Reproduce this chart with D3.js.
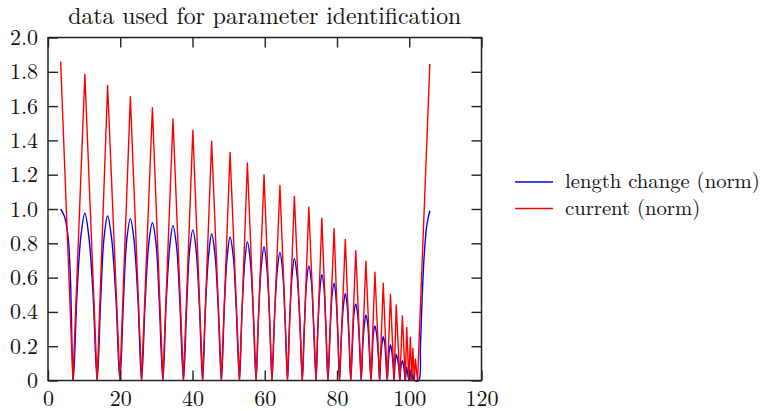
<!DOCTYPE html>
<html><head><meta charset="utf-8">
<script src="https://cdn.jsdelivr.net/npm/d3@7"></script>
<style>
html,body{margin:0;padding:0;background:#fff;}
</style></head>
<body><svg id="c" width="765" height="411"></svg>
<script>
// ---- data ----
const title = "data used for parameter identification";
const seriesNames = ["length change (norm)", "current (norm)"];
const xTicks = [0, 20, 40, 60, 80, 100, 120];
const yTicks = [0, 0.2, 0.4, 0.6, 0.8, 1.0, 1.2, 1.4, 1.6, 1.8, 2.0];
const yTickLabels = ["0", "0.2", "0.4", "0.6", "0.8", "1.0", "1.2", "1.4", "1.6", "1.8", "2.0"];

// current (norm): x and y
const currentX = [3.5, 6.9, 10.2, 13.6, 16.5, 19.9, 22.8, 25.9, 28.9, 31.8, 34.6, 37.5, 40.1, 42.8, 45.3, 48.0,
  50.4, 53.0, 55.2, 57.6, 59.8, 62.0, 64.2, 66.3, 68.2, 70.4, 72.2, 74.2, 75.8, 77.5, 79.2, 80.7, 82.3, 83.8,
  85.2, 86.7, 88.0, 89.4, 90.5, 91.8, 92.8, 93.9, 94.8, 95.8, 96.4, 97.4, 98.1, 98.9, 99.3, 99.9, 100.3, 100.7,
  101.0, 101.4, 101.7, 102.3, 105.7];
const currentY = [1.86, 0, 1.785, 0, 1.72, 0, 1.655, 0, 1.59, 0, 1.525, 0, 1.46, 0, 1.395, 0,
  1.33, 0, 1.268, 0, 1.20, 0, 1.138, 0, 1.074, 0, 1.01, 0, 0.946, 0, 0.885, 0, 0.823, 0,
  0.757, 0, 0.695, 0, 0.631, 0, 0.567, 0, 0.503, 0, 0.44, 0, 0.376, 0, 0.31, 0, 0.252, 0,
  0.188, 0, 0.124, 0, 1.845];

// length change (norm): x and y
const lengthX = [3.5, 4.5, 5.5, 6.2, 7.0,
  8.0, 9.1, 10.2, 11.3, 12.5, 13.6,
  14.6, 15.5, 16.5, 17.6, 18.8, 19.9,
  20.9, 21.8, 22.8, 23.8, 24.9, 25.9,
  26.9, 27.9, 28.9, 29.9, 30.8, 31.8,
  32.7, 33.7, 34.6, 35.6, 36.5, 37.5,
  38.4, 39.2, 40.1, 41.0, 41.9, 42.8,
  43.6, 44.5, 45.3, 46.2, 47.1, 48.0,
  48.8, 49.6, 50.4, 51.3, 52.1, 53.0,
  53.7, 54.5, 55.2, 56.0, 56.8, 57.6,
  58.3, 59.1, 59.8, 60.5, 61.3, 62.0,
  62.7, 63.5, 64.2, 64.9, 65.6, 66.3,
  66.9, 67.6, 68.2, 68.9, 69.7, 70.4,
  71.0, 71.6, 72.2, 72.9, 73.5, 74.2,
  74.7, 75.3, 75.8, 76.4, 76.9, 77.5,
  78.1, 78.6, 79.2, 79.7, 80.2, 80.7,
  81.2, 81.8, 82.3, 82.8, 83.3, 83.8,
  84.3, 84.7, 85.2, 85.7, 86.2, 86.7,
  87.1, 87.6, 88.0, 88.5, 88.9, 89.4,
  89.8, 90.1, 90.5, 90.9, 91.4, 91.8,
  92.1, 92.5, 92.8, 93.2, 93.5, 93.9,
  94.2, 94.5, 94.8, 95.1, 95.5, 95.8,
  96.0, 96.2, 96.4, 96.7, 97.1, 97.4,
  97.7, 98.1, 98.5, 98.9,
  99.3, 99.9, 100.3, 100.7, 101.0, 101.4, 102.6,
  103.1, 103.6, 104.2, 104.9, 105.7];
const lengthY = [1.0, 0.96, 0.85, 0.6, 0,
  0.49, 0.84, 0.975, 0.84, 0.49, 0,
  0.48, 0.83, 0.959, 0.83, 0.48, 0,
  0.47, 0.82, 0.944, 0.82, 0.47, 0,
  0.46, 0.80, 0.92, 0.80, 0.46, 0,
  0.45, 0.78, 0.903, 0.78, 0.45, 0,
  0.44, 0.76, 0.878, 0.76, 0.44, 0,
  0.43, 0.74, 0.854, 0.74, 0.43, 0,
  0.42, 0.72, 0.837, 0.72, 0.42, 0,
  0.40, 0.70, 0.809, 0.70, 0.40, 0,
  0.39, 0.68, 0.78, 0.68, 0.39, 0,
  0.37, 0.65, 0.747, 0.65, 0.37, 0,
  0.36, 0.62, 0.712, 0.62, 0.36, 0,
  0.33, 0.58, 0.668, 0.58, 0.33, 0,
  0.31, 0.54, 0.619, 0.54, 0.31, 0,
  0.28, 0.49, 0.567, 0.49, 0.28, 0,
  0.25, 0.44, 0.508, 0.44, 0.25, 0,
  0.22, 0.39, 0.446, 0.39, 0.22, 0,
  0.19, 0.33, 0.382, 0.33, 0.19, 0,
  0.16, 0.28, 0.318, 0.28, 0.16, 0,
  0.13, 0.22, 0.255, 0.22, 0.13, 0,
  0.10, 0.18, 0.207, 0.18, 0.10, 0,
  0.08, 0.13, 0.153, 0.13, 0.08, 0,
  0.08, 0.115, 0.08, 0,
  0.077, 0, 0.061, 0, 0.04, 0, 0,
  0.2, 0.5, 0.75, 0.91, 0.99];

// ---- drawing ----
const FONT = "'Latin Modern Roman', 'Liberation Serif', serif";
const svg = d3.select("#c");
const L = 48, R = 481.5, T = 37.5, B = 380.5;
const x = d3.scaleLinear().domain([0, 120]).range([L, R]);
const y = d3.scaleLinear().domain([0, 2]).range([B, T]);
const tickLen = 10;

function fitText(sel, target) {
  const w = sel.node().getComputedTextLength();
  const fs = +sel.attr("font-size");
  sel.attr("font-size", (fs * target / w).toFixed(2));
}
const tt = svg.append("text").attr("x", (L + R) / 2).attr("y", 24).attr("text-anchor", "middle")
  .attr("font-family", FONT).attr("fill", "#111").attr("font-size", 20).text(title);
fitText(tt, 393);
const FS = Math.min(+tt.attr("font-size"), 22);

const curData = currentX.map((v, i) => [v, currentY[i]]);
const lenData = lengthX.map((v, i) => [v, lengthY[i]]);
const lineLin = d3.line().x(d => x(d[0])).y(d => y(d[1]));
const lineSmooth = d3.line().x(d => x(d[0])).y(d => y(d[1])).curve(d3.curveCatmullRom.alpha(0.5));

const g = svg.append("g");
g.append("path").datum(lenData).attr("d", lineSmooth).attr("fill", "none")
  .attr("stroke", "#0000ff").attr("stroke-width", 1.4).attr("stroke-linejoin", "round");
g.append("path").datum(curData).attr("d", lineLin).attr("fill", "none")
  .attr("stroke", "#ff0000").attr("stroke-width", 1.4).attr("stroke-linejoin", "round");

// axes (inward ticks on all four sides)
const fmtY = d => yTickLabels[yTicks.indexOf(d)];
const axB = d3.axisBottom(x).tickValues(xTicks).tickSizeInner(-tickLen).tickSizeOuter(0).tickPadding(10).tickFormat(d3.format("d"));
const axT = d3.axisTop(x).tickValues(xTicks).tickSizeInner(-tickLen).tickSizeOuter(0).tickFormat("");
const axL = d3.axisLeft(y).tickValues(yTicks).tickSizeInner(-tickLen).tickSizeOuter(0).tickPadding(10).tickFormat(fmtY);
const axR = d3.axisRight(y).tickValues(yTicks).tickSizeInner(-tickLen).tickSizeOuter(0).tickFormat("");

function style(sel) {
  sel.attr("font-family", FONT).attr("font-size", FS);
  sel.select(".domain").remove();
  sel.selectAll(".tick line").attr("stroke", "#222").attr("stroke-width", 1.4);
  sel.selectAll(".tick text").attr("font-family", FONT).attr("font-size", FS).attr("fill", "#111");
}
svg.append("g").attr("transform", `translate(0,${B})`).call(axB).call(style);
svg.append("g").attr("transform", `translate(0,${T})`).call(axT).call(style);
svg.append("g").attr("transform", `translate(${L},0)`).call(axL).call(style);
svg.append("g").attr("transform", `translate(${R},0)`).call(axR).call(style);

svg.append("rect").attr("x", L).attr("y", T).attr("width", R - L).attr("height", B - T)
  .attr("fill", "none").attr("stroke", "#222").attr("stroke-width", 1.5);

// legend
const colors = ["#0000ff", "#ff0000"];
const leg = svg.append("g");
let legFS = FS;
seriesNames.forEach((n, i) => {
  const yy = 182 + i * 26.5;
  leg.append("line").attr("x1", 515).attr("x2", 553).attr("y1", yy).attr("y2", yy)
    .attr("stroke", colors[i]).attr("stroke-width", 1.4);
  const t = leg.append("text").attr("x", 565).attr("y", yy + 6).attr("font-family", FONT)
    .attr("fill", "#111").attr("font-size", legFS).text(n);
  if (i === 0) { fitText(t, 195); legFS = +t.attr("font-size"); }
});
</script></body></html>
